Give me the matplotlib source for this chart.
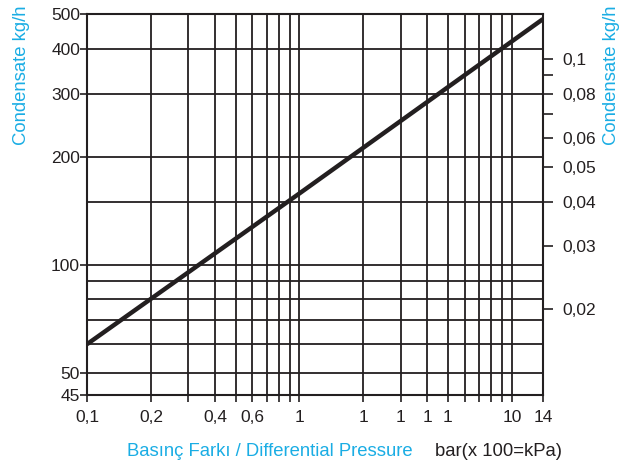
import numpy as np
import matplotlib.pyplot as plt
from matplotlib.ticker import NullLocator, FixedLocator, FixedFormatter

plt.rcParams['font.family'] = ['Liberation Sans', 'DejaVu Sans']

# data (condensate capacity vs differential pressure)
pressure = [0.1, 1.0, 14.0]
condensate = [60, 158, 484]

x_ticks = [0.1, 0.2, 0.3, 0.4, 0.5, 0.6, 0.7, 0.8, 0.9, 1,
           2, 3, 4, 5, 6, 7, 8, 9, 10, 14]
x_labels = ['0,1', '0,2', '', '0,4', '', '0,6', '', '', '', '1',
            '1', '1', '1', '1', '', '', '', '', '10', '14']
x_grid = [0.2, 0.3, 0.4, 0.5, 0.6, 0.7, 0.8, 0.9, 1,
          2, 3, 4, 5, 6, 7, 8, 9, 10]

y_min, y_max = 43.3, 500
y_ticks = [y_min, 50, 100, 200, 300, 400, 500]
y_labels = ['45', '50', '100', '200', '300', '400', '500']
y_grid = [50, 60, 70, 80, 90, 100, 150, 200, 300, 400]

# right hand scale
factor = 3750
r_ticks = [0.02, 0.03, 0.04, 0.05, 0.06, 0.07, 0.08, 0.09, 0.1]
r_labels = ['0,02', '0,03', '0,04', '0,05', '0,06', '', '0,08', '', '0,1']

ink = '#231f20'
blue = '#1aade4'

fig = plt.figure(figsize=(6.38, 4.71), dpi=100)
ax = fig.add_axes([87/638, 1-395/471, (543-87)/638, (395-14)/471])
ax.set_xscale('log')
ax.set_yscale('log')
ax.set_xlim(0.1, 14)
ax.set_ylim(y_min, y_max)

for gx in x_grid:
    ax.axvline(gx, color=ink, lw=1.3, zorder=1)
for gy in y_grid:
    ax.axhline(gy, color=ink, lw=1.3, zorder=1)

ax.plot(pressure, condensate, color=ink, lw=3.2, solid_capstyle='butt', zorder=3)

ax.xaxis.set_major_locator(FixedLocator(x_ticks))
ax.xaxis.set_major_formatter(FixedFormatter(x_labels))
ax.xaxis.set_minor_locator(NullLocator())
ax.yaxis.set_major_locator(FixedLocator(y_ticks))
ax.yaxis.set_major_formatter(FixedFormatter(y_labels))
ax.yaxis.set_minor_locator(NullLocator())
ax.tick_params(axis='x', length=5, width=1.2, pad=6, labelsize=12.5,
               color=ink, labelcolor=ink)
ax.tick_params(axis='y', length=5, width=1.2, pad=0, labelsize=12.5,
               color=ink, labelcolor=ink)
for s in ax.spines.values():
    s.set_color(ink)
    s.set_linewidth(1.5)

ax2 = ax.twinx()
ax2.set_yscale('log')
ax2.set_ylim(y_min/factor, y_max/factor)
ax2.yaxis.set_major_locator(FixedLocator(r_ticks))
ax2.yaxis.set_major_formatter(FixedFormatter(r_labels))
ax2.yaxis.set_minor_locator(NullLocator())
ax2.tick_params(axis='y', length=7, width=1.2, pad=7, labelsize=12.5,
                color=ink, labelcolor=ink)
for s in ax2.spines.values():
    s.set_visible(False)

fig.text(22/638, 1-75/471, 'Condensate kg/h', rotation=90, color=blue,
         fontsize=13.3, ha='center', va='center')
fig.text(612/638, 1-75/471, 'Condensate kg/h', rotation=90, color=blue,
         fontsize=13.3, ha='center', va='center')
fig.text(127/638, 1-452/471, 'Basınç Farkı / Differential Pressure', color=blue,
         fontsize=13.3, ha='left', va='center')
fig.text(435/638, 1-452/471, 'bar(x 100=kPa)', color=ink,
         fontsize=13.3, ha='left', va='center')

fig.savefig('out.png', dpi=100)
